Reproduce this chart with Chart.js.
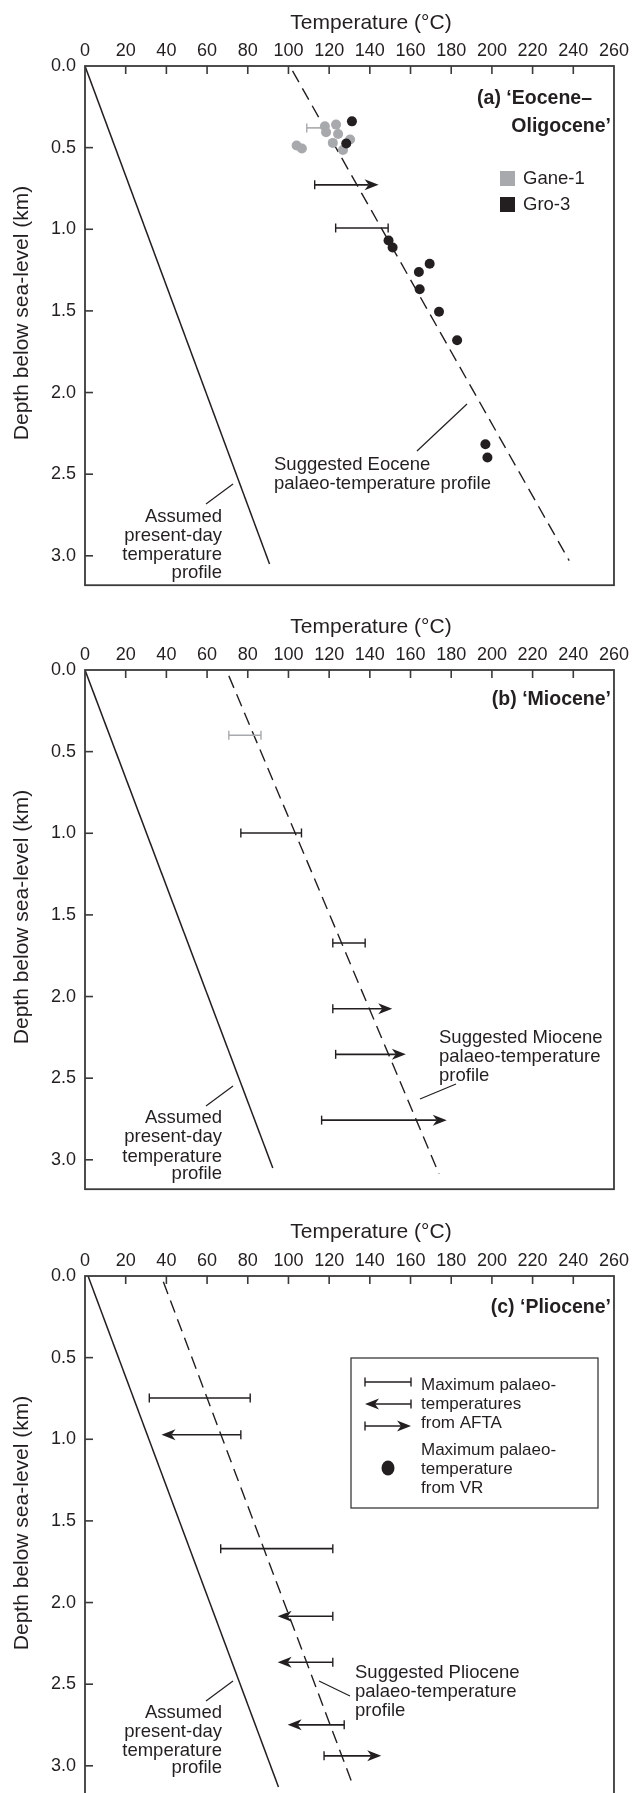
<!DOCTYPE html>
<html><head><meta charset="utf-8">
<script src="https://cdn.jsdelivr.net/npm/chart.js@4.4.1/dist/chart.umd.min.js"></script>
<style>
html,body{margin:0;padding:0;background:#fff;width:633px;height:1793px;overflow:hidden;}
.panel{position:absolute;left:0;width:633px;height:605px;}
</style></head><body>
<div class="panel" style="top:0px"><canvas id="ca" width="633" height="605"></canvas></div>
<div class="panel" style="top:604px"><canvas id="cb" width="633" height="605"></canvas></div>
<div class="panel" style="top:1210px"><canvas id="cc" width="633" height="605"></canvas></div>
<script>
// ---------------- DATA ----------------
const TEMP_TICKS = [0,20,40,60,80,100,120,140,160,180,200,220,240,260];
const DEPTH_TICKS = [0.0,0.5,1.0,1.5,2.0,2.5,3.0];

// (a) Eocene–Oligocene
const A_PRESENT_T = [0, 90.7];
const A_PRESENT_D = [0, 3.05];
const A_PROFILE_T = [102, 238];
const A_PROFILE_D = [0.03, 3.03];
const A_GANE1_T = [104.0, 106.6, 117.9, 118.5, 123.4, 124.4, 121.8, 130.3, 126.8];
const A_GANE1_D = [0.487, 0.505, 0.369, 0.406, 0.359, 0.416, 0.471, 0.45, 0.515];
const A_GRO3_T = [131.2, 128.4, 149.2, 151.2, 169.4, 164.1, 164.5, 174.0, 182.9, 196.8, 197.8];
const A_GRO3_D = [0.339, 0.475, 1.069, 1.112, 1.211, 1.262, 1.367, 1.505, 1.68, 2.317, 2.398];
const A_AFTA_D    = [0.379, 0.728, 0.992];
const A_AFTA_LO   = [109, 112.9, 123.2];
const A_AFTA_HI   = [118, 144.3, 149.0];
const A_AFTA_KIND = ['range', 'right', 'range'];
const A_AFTA_WELL = ['Gane-1', 'Gro-3', 'Gro-3'];

// (b) Miocene
const B_PRESENT_T = [0, 92.3];
const B_PRESENT_D = [0, 3.05];
const B_PROFILE_T = [70.7, 174];
const B_PROFILE_D = [0.036, 3.086];
const B_AFTA_D    = [0.40, 0.998, 1.672, 2.075, 2.354, 2.757];
const B_AFTA_LO   = [70.7, 76.6, 121.8, 121.8, 123.2, 116.3];
const B_AFTA_HI   = [86.5, 106.4, 137.7, 151.0, 157.7, 177.8];
const B_AFTA_KIND = ['range', 'range', 'range', 'right', 'right', 'right'];
const B_AFTA_WELL = ['Gane-1', 'Gro-3', 'Gro-3', 'Gro-3', 'Gro-3', 'Gro-3'];

// (c) Pliocene
const C_PRESENT_T = [1.5, 95.1];
const C_PRESENT_D = [0, 3.13];
const C_PROFILE_T = [38.5, 131.4];
const C_PROFILE_D = [0.035, 3.11];
const C_AFTA_D    = [0.747, 0.972, 1.670, 2.084, 2.366, 2.749, 2.939];
const C_AFTA_LO   = [31.6, 37.6, 66.7, 94.7, 94.7, 99.6, 117.5];
const C_AFTA_HI   = [81.2, 76.6, 121.8, 121.8, 121.8, 127.4, 145.6];
const C_AFTA_KIND = ['range', 'left', 'range', 'left', 'left', 'left', 'right'];
const C_AFTA_WELL = ['Gro-3', 'Gro-3', 'Gro-3', 'Gro-3', 'Gro-3', 'Gro-3', 'Gro-3'];

// ---------------- STYLE ----------------
const INK = '#231f20';
const GREY = '#a7a9ac';
const FRAME = '#3a3a3a';
const FAM = '"Liberation Sans", Arial, Helvetica, sans-serif';
const TICK_PX = 18, TITLE_PX = 21, NOTE_PX = 18.5, BOLD_PX = 19.5;

function pts(T, D) { return T.map((t, i) => ({x: t, y: D[i]})); }

function arrowHead(ctx, x, y, dir) {
  const L = 14, W = 5.5, N = 4;
  ctx.beginPath();
  ctx.moveTo(x, y);
  ctx.lineTo(x - dir * L, y - W);
  ctx.lineTo(x - dir * (L - N), y);
  ctx.lineTo(x - dir * L, y + W);
  ctx.closePath();
  ctx.fill();
}
function drawRange(ctx, x1, x2, y, kind, color) {
  const L = 14, N = 4, C = 4.5;
  ctx.strokeStyle = color; ctx.fillStyle = color; ctx.lineWidth = 1.6;
  let s = x1, e = x2;
  if (kind === 'right') e = x2 - (L - N);
  if (kind === 'left') s = x1 + (L - N);
  ctx.beginPath(); ctx.moveTo(s, y); ctx.lineTo(e, y); ctx.stroke();
  ctx.lineWidth = 1.4;
  if (kind !== 'left') { ctx.beginPath(); ctx.moveTo(x1, y - C); ctx.lineTo(x1, y + C); ctx.stroke(); }
  if (kind !== 'right') { ctx.beginPath(); ctx.moveTo(x2, y - C); ctx.lineTo(x2, y + C); ctx.stroke(); }
  if (kind === 'right') arrowHead(ctx, x2, y, 1);
  if (kind === 'left') arrowHead(ctx, x1, y, -1);
}
function txt(ctx, s, x, y, align, font) {
  ctx.font = font; ctx.textAlign = align; ctx.textBaseline = 'middle'; ctx.fillStyle = INK;
  ctx.fillText(s, x, y);
}
function seg(ctx, x1, y1, x2, y2, w, c) {
  ctx.strokeStyle = c; ctx.lineWidth = w;
  ctx.beginPath(); ctx.moveTo(x1, y1); ctx.lineTo(x2, y2); ctx.stroke();
}

function makeDecor(cfg) {
  return {
    id: 'decor',
    afterDatasetsDraw(chart) {
      const ctx = chart.ctx, a = chart.chartArea, xs = chart.scales.x, ys = chart.scales.y;
      ctx.save();
      // AFTA ranges
      cfg.afta.d.forEach((d, i) => {
        drawRange(ctx, xs.getPixelForValue(cfg.afta.lo[i]), xs.getPixelForValue(cfg.afta.hi[i]),
          ys.getPixelForValue(d), cfg.afta.kind[i], cfg.afta.well[i] === 'Gane-1' ? GREY : INK);
      });
      // frame
      ctx.strokeStyle = FRAME; ctx.lineWidth = 1.8;
      ctx.strokeRect(a.left, a.top, a.right - a.left, a.bottom - a.top);
      TEMP_TICKS.forEach(v => { if (v > 0 && v < 260) { const x = xs.getPixelForValue(v); seg(ctx, x, a.top, x, a.top + 8, 1.6, FRAME); } });
      DEPTH_TICKS.forEach(v => { if (v > 0) { const y = ys.getPixelForValue(v); seg(ctx, a.left, y, a.left + 8, y, 1.6, FRAME); } });
      // axis titles
      txt(ctx, 'Temperature (°C)', cfg.xTitle[0], cfg.xTitle[1], 'center', TITLE_PX + 'px ' + FAM);
      ctx.save(); ctx.translate(cfg.yTitle[0], cfg.yTitle[1]); ctx.rotate(-Math.PI / 2);
      txt(ctx, 'Depth below sea-level (km)', 0, 0, 'center', TITLE_PX + 'px ' + FAM);
      ctx.restore();
      // panel titles
      cfg.titles.forEach(t => txt(ctx, t.t, t.x, t.y, 'right', 'bold ' + BOLD_PX + 'px ' + FAM));
      // notes
      cfg.notes.forEach(t => txt(ctx, t.t, t.x, t.y, t.a, NOTE_PX + 'px ' + FAM));
      cfg.leaders.forEach(l => seg(ctx, l[0], l[1], l[2], l[3], 1.2, INK));
      // legend squares (a)
      (cfg.squares || []).forEach(q => {
        ctx.fillStyle = q.c; ctx.fillRect(q.x, q.y, 15, 15);
        txt(ctx, q.label, q.x + 23, q.y + 8, 'left', NOTE_PX + 'px ' + FAM);
      });
      // legend box (c)
      if (cfg.box) {
        const b = cfg.box;
        ctx.strokeStyle = FRAME; ctx.lineWidth = 1.3;
        ctx.strokeRect(b.x, b.y, b.w, b.h);
        drawRange(ctx, b.x + 14, b.x + 60, b.y + 24, 'range', INK);
        drawRange(ctx, b.x + 14, b.x + 60, b.y + 46, 'left', INK);
        drawRange(ctx, b.x + 14, b.x + 60, b.y + 68, 'right', INK);
        const f = '17px ' + FAM;
        txt(ctx, 'Maximum palaeo-', b.x + 70, b.y + 27, 'left', f);
        txt(ctx, 'temperatures', b.x + 70, b.y + 46, 'left', f);
        txt(ctx, 'from AFTA', b.x + 70, b.y + 65, 'left', f);
        ctx.fillStyle = INK; ctx.beginPath(); ctx.ellipse(b.x + 37, b.y + 110, 6.5, 7.5, 0, 0, Math.PI * 2); ctx.fill();
        txt(ctx, 'Maximum palaeo-', b.x + 70, b.y + 92, 'left', f);
        txt(ctx, 'temperature', b.x + 70, b.y + 111, 'left', f);
        txt(ctx, 'from VR', b.x + 70, b.y + 130, 'left', f);
      }
      ctx.restore();
    }
  };
}

function makeChart(id, d, cfg) {
  const datasets = [];
  if (d.gro3) datasets.push({label: 'Gro-3', data: d.gro3, backgroundColor: INK, borderWidth: 0, pointRadius: 5, pointHoverRadius: 5});
  if (d.gane1) datasets.push({label: 'Gane-1', data: d.gane1, backgroundColor: GREY, borderWidth: 0, pointRadius: 5, pointHoverRadius: 5});
  datasets.push({label: 'profile', type: 'line', data: d.profile, borderColor: INK, borderWidth: 1.4, borderDash: [13, 7], pointRadius: 0, fill: false, tension: 0});
  datasets.push({label: 'present', type: 'line', data: d.present, borderColor: INK, borderWidth: 1.5, pointRadius: 0, fill: false, tension: 0});
  return new Chart(document.getElementById(id), {
    type: 'scatter',
    data: {datasets},
    options: {
      responsive: false, animation: false, devicePixelRatio: 1,
      layout: {padding: {left: 0, right: 19, top: 0, bottom: 16}},
      plugins: {legend: {display: false}, tooltip: {enabled: false}},
      scales: {
        x: {
          type: 'linear', position: 'top', min: 0, max: 260,
          afterBuildTicks: s => { s.ticks = TEMP_TICKS.map(v => ({value: v})); },
          afterFit: s => { s.height = 66; },
          ticks: {font: {family: FAM, size: TICK_PX}, color: INK, padding: 4, maxRotation: 0, autoSkip: false},
          grid: {display: false, drawTicks: false}, border: {display: false}
        },
        y: {
          type: 'linear', reverse: true, min: 0, max: 3.18,
          afterBuildTicks: s => { s.ticks = DEPTH_TICKS.map(v => ({value: v})); },
          afterFit: s => { s.width = 85; },
          ticks: {font: {family: FAM, size: TICK_PX}, color: INK, padding: 9, callback: v => Number(v).toFixed(1), autoSkip: false},
          grid: {display: false, drawTicks: false}, border: {display: false}
        }
      }
    },
    plugins: [makeDecor(cfg)]
  });
}

const assumed = (x, ys) => [
  {t: 'Assumed', x, y: ys[0], a: 'right'}, {t: 'present-day', x, y: ys[1], a: 'right'},
  {t: 'temperature', x, y: ys[2], a: 'right'}, {t: 'profile', x, y: ys[3], a: 'right'}];

makeChart('ca', {
  present: pts(A_PRESENT_T, A_PRESENT_D), profile: pts(A_PROFILE_T, A_PROFILE_D),
  gane1: pts(A_GANE1_T, A_GANE1_D), gro3: pts(A_GRO3_T, A_GRO3_D)
}, {
  afta: {d: A_AFTA_D, lo: A_AFTA_LO, hi: A_AFTA_HI, kind: A_AFTA_KIND, well: A_AFTA_WELL},
  xTitle: [371, 23], yTitle: [22, 313],
  titles: [{t: '(a) \u2018Eocene\u2013', x: 592, y: 99}, {t: 'Oligocene\u2019', x: 611, y: 127}],
  notes: [{t: 'Suggested Eocene', x: 274, y: 465, a: 'left'}, {t: 'palaeo-temperature profile', x: 274, y: 484, a: 'left'}]
    .concat(assumed(222, [517, 536, 555, 573])),
  leaders: [[206, 504, 233, 484], [417, 451, 467, 404]],
  squares: [{x: 500, y: 171, c: GREY, label: 'Gane-1'}, {x: 500, y: 197, c: INK, label: 'Gro-3'}]
});

makeChart('cb', {
  present: pts(B_PRESENT_T, B_PRESENT_D), profile: pts(B_PROFILE_T, B_PROFILE_D)
}, {
  afta: {d: B_AFTA_D, lo: B_AFTA_LO, hi: B_AFTA_HI, kind: B_AFTA_KIND, well: B_AFTA_WELL},
  xTitle: [371, 23], yTitle: [22, 313],
  titles: [{t: '(b) \u2018Miocene\u2019', x: 611, y: 96}],
  notes: [{t: 'Suggested Miocene', x: 439, y: 434, a: 'left'}, {t: 'palaeo-temperature', x: 439, y: 453, a: 'left'},
          {t: 'profile', x: 439, y: 472, a: 'left'}].concat(assumed(222, [514, 533, 553, 570])),
  leaders: [[420, 495, 456, 480], [206, 502, 233, 482]]
});

makeChart('cc', {
  present: pts(C_PRESENT_T, C_PRESENT_D), profile: pts(C_PROFILE_T, C_PROFILE_D)
}, {
  afta: {d: C_AFTA_D, lo: C_AFTA_LO, hi: C_AFTA_HI, kind: C_AFTA_KIND, well: C_AFTA_WELL},
  xTitle: [371, 22], yTitle: [22, 313],
  titles: [{t: '(c) \u2018Pliocene\u2019', x: 611, y: 98}],
  notes: [{t: 'Suggested Pliocene', x: 355, y: 463, a: 'left'}, {t: 'palaeo-temperature', x: 355, y: 482, a: 'left'},
          {t: 'profile', x: 355, y: 501, a: 'left'}].concat(assumed(222, [503, 522, 541, 558])),
  leaders: [[319, 471, 350, 486], [206, 491, 233, 471]],
  box: {x: 351, y: 148, w: 247, h: 150}
});
</script>
</body></html>
